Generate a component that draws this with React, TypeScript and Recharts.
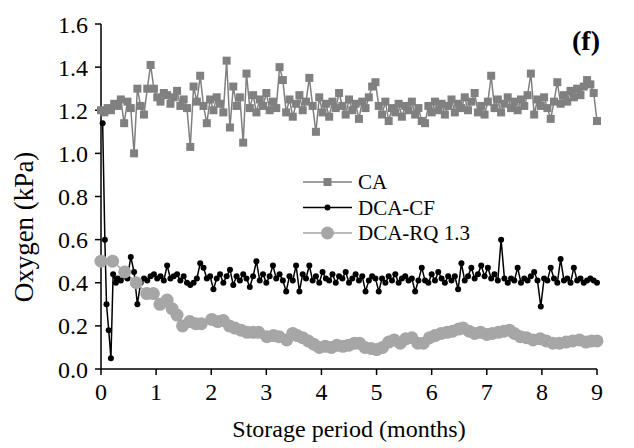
import React from 'react';
import { LineChart, Line, XAxis, YAxis } from 'recharts';

// Regular sampling schedule (months): one reading every 0.06 month, 0–9 months
const gridMonths: number[] = Array.from({ length: 151 }, (_, i) => Math.round(i * 60) / 1000);

// CA: oxygen (kPa) at each grid month
const caValues: number[] = [
  1.20, 1.19, 1.21, 1.20, 1.23, 1.22, 1.25, 1.14, 1.24, 1.21,
  1.00, 1.30, 1.22, 1.18, 1.30, 1.41, 1.30, 1.26, 1.24, 1.28,
  1.27, 1.23, 1.26, 1.29, 1.22, 1.25, 1.21, 1.03, 1.31, 1.24,
  1.36, 1.22, 1.14, 1.25, 1.20, 1.26, 1.23, 1.19, 1.43, 1.12,
  1.31, 1.22, 1.26, 1.05, 1.37, 1.21, 1.27, 1.19, 1.25, 1.22,
  1.28, 1.20, 1.24, 1.21, 1.40, 1.34, 1.19, 1.25, 1.17, 1.23,
  1.27, 1.20, 1.24, 1.35, 1.22, 1.10, 1.26, 1.19, 1.23, 1.17,
  1.24, 1.21, 1.28, 1.22, 1.18, 1.25, 1.20, 1.23, 1.16, 1.24,
  1.21, 1.26, 1.31, 1.33, 1.22, 1.18, 1.24, 1.15, 1.21, 1.19,
  1.23, 1.17, 1.22, 1.20, 1.24, 1.18, 1.21, 1.15, 1.14, 1.22,
  1.19, 1.24, 1.20, 1.23, 1.18, 1.22, 1.25, 1.19, 1.23, 1.21,
  1.26, 1.20, 1.24, 1.28, 1.19, 1.22, 1.18, 1.24, 1.36, 1.21,
  1.25, 1.19, 1.23, 1.26, 1.21, 1.24, 1.20, 1.25, 1.22, 1.27,
  1.37, 1.18, 1.25, 1.22, 1.26, 1.21, 1.16, 1.24, 1.33, 1.23,
  1.27, 1.24, 1.29, 1.26, 1.30, 1.27, 1.31, 1.34, 1.32, 1.28,
  1.15,
];

// DCA-CF: dense readings in the first days, then the regular grid from 0.30 month
const cfEarlyMonths: number[] = [0.03, 0.07, 0.10, 0.14, 0.18, 0.22, 0.27];
const cfEarlyValues: number[] = [1.14, 0.60, 0.30, 0.18, 0.05, 0.44, 0.40];
const cfGridValues: number[] = [
  0.42, 0.41, 0.43, 0.42, 0.52, 0.45, 0.30, 0.40, 0.42, 0.41,
  0.43, 0.44, 0.42, 0.43, 0.41, 0.48, 0.42, 0.43, 0.44, 0.41,
  0.43, 0.40, 0.39, 0.40, 0.42, 0.49, 0.47, 0.42, 0.43, 0.37,
  0.42, 0.44, 0.40, 0.43, 0.46, 0.39, 0.43, 0.41, 0.44, 0.42,
  0.38, 0.43, 0.50, 0.41, 0.44, 0.40, 0.43, 0.48, 0.42, 0.44,
  0.41, 0.36, 0.43, 0.41, 0.48, 0.36, 0.44, 0.42, 0.48, 0.41,
  0.43, 0.40, 0.45, 0.42, 0.41, 0.44, 0.40, 0.43, 0.42, 0.45,
  0.40, 0.42, 0.44, 0.41, 0.43, 0.36, 0.41, 0.43, 0.42, 0.36,
  0.42, 0.40, 0.43, 0.41, 0.44, 0.40, 0.42, 0.43, 0.41, 0.42,
  0.36, 0.41, 0.47, 0.41, 0.40, 0.44, 0.41, 0.45, 0.42, 0.40,
  0.43, 0.41, 0.43, 0.37, 0.49, 0.41, 0.43, 0.47, 0.42, 0.44,
  0.48, 0.43, 0.47, 0.42, 0.44, 0.41, 0.60, 0.42, 0.40, 0.42,
  0.41, 0.47, 0.40, 0.42, 0.41, 0.43, 0.45, 0.41, 0.29, 0.42,
  0.41, 0.47, 0.42, 0.40, 0.51, 0.41, 0.42, 0.40, 0.47, 0.41,
  0.42, 0.40, 0.41, 0.42, 0.41, 0.40,
];

// DCA-RQ 1.3
const rqMonths: number[] = [
  0.00, 0.21, 0.43, 0.64, 0.83, 0.95, 1.07, 1.20, 1.29, 1.38,
  1.48, 1.61, 1.72, 1.82, 2.01, 2.12, 2.22, 2.33, 2.43, 2.54,
  2.65, 2.76, 2.86, 3.01, 3.13, 3.23, 3.37, 3.48, 3.56, 3.66,
  3.76, 3.86, 3.96, 4.07, 4.18, 4.28, 4.39, 4.49, 4.60, 4.69,
  4.79, 4.90, 5.00, 5.11, 5.22, 5.32, 5.43, 5.53, 5.64, 5.75,
  5.85, 5.96, 6.06, 6.17, 6.28, 6.38, 6.49, 6.57, 6.68, 6.78,
  6.89, 7.00, 7.10, 7.21, 7.31, 7.41, 7.50, 7.61, 7.72, 7.84,
  7.97, 8.08, 8.20, 8.32, 8.44, 8.56, 8.68, 8.80, 8.90, 9.00,
];
const rqValues: number[] = [
  0.50, 0.50, 0.45, 0.40, 0.35, 0.35, 0.30, 0.32, 0.28, 0.25,
  0.20, 0.22, 0.21, 0.21, 0.23, 0.22, 0.225, 0.20, 0.19, 0.18,
  0.17, 0.17, 0.17, 0.15, 0.155, 0.15, 0.135, 0.165, 0.155, 0.145,
  0.13, 0.115, 0.10, 0.105, 0.10, 0.11, 0.105, 0.11, 0.12, 0.12,
  0.10, 0.095, 0.09, 0.10, 0.125, 0.135, 0.12, 0.14, 0.145, 0.12,
  0.12, 0.145, 0.155, 0.165, 0.17, 0.175, 0.185, 0.19, 0.175, 0.165,
  0.17, 0.16, 0.165, 0.17, 0.175, 0.18, 0.165, 0.15, 0.145, 0.135,
  0.14, 0.13, 0.12, 0.12, 0.125, 0.13, 0.135, 0.125, 0.13, 0.13,
];

const xTicks = [0, 1, 2, 3, 4, 5, 6, 7, 8, 9];
const yTicks = [0, 0.2, 0.4, 0.6, 0.8, 1.0, 1.2, 1.4, 1.6];

const caData = gridMonths.map((m, i) => ({ month: m, o2: caValues[i] }));
const cfData = [
  ...cfEarlyMonths.map((m, i) => ({ month: m, o2: cfEarlyValues[i] })),
  ...gridMonths.slice(5).map((m, i) => ({ month: m, o2: cfGridValues[i] })),
];
const rqData = rqMonths.map((m, i) => ({ month: m, o2: rqValues[i] }));

const FONT = "'Times New Roman', 'Liberation Serif', serif";
const CA_COLOR = '#808080';
const CF_COLOR = '#000000';
const RQ_COLOR = '#A6A6A6';

const SquareDot = (props: any) => {
  const { cx, cy, index } = props;
  if (cx == null || cy == null) return <g key={`ca-${index}`} />;
  return <rect key={`ca-${index}`} x={cx - 4} y={cy - 4} width={8} height={8} fill={CA_COLOR} />;
};

const CircleDot = (r: number, color: string, tag: string) => (props: any) => {
  const { cx, cy, index } = props;
  if (cx == null || cy == null) return <g key={`${tag}-${index}`} />;
  return <circle key={`${tag}-${index}`} cx={cx} cy={cy} r={r} fill={color} />;
};

const legendRows = [
  { name: 'CA', color: CA_COLOR, shape: 'square' },
  { name: 'DCA-CF', color: CF_COLOR, shape: 'small' },
  { name: 'DCA-RQ 1.3', color: RQ_COLOR, shape: 'big' },
];

// Legend, panel letter and y-axis title drawn over the chart
const Overlay = () => (
  <svg width={634} height={448} style={{ position: 'absolute', left: 0, top: 0, pointerEvents: 'none' }}>
    {legendRows.map((row, i) => {
      const y = 182 + i * 25.5;
      return (
        <g key={row.name}>
          <line x1={303} x2={352} y1={y} y2={y} stroke={row.color} strokeWidth={1.5} />
          {row.shape === 'square' && <rect x={323.5} y={y - 4} width={8} height={8} fill={row.color} />}
          {row.shape === 'small' && <circle cx={327.5} cy={y} r={3} fill={row.color} />}
          {row.shape === 'big' && <circle cx={327.5} cy={y} r={6.5} fill={row.color} />}
          <text x={358} y={y} dy="0.35em" fontSize={21} fontFamily={FONT} fill="#000">
            {row.name}
          </text>
        </g>
      );
    })}
    <text x={600} y={50} textAnchor="end" fontSize={28} fontWeight="bold" fontFamily={FONT} fill="#000">
      (f)
    </text>
    <text
      x={24}
      y={227}
      transform="rotate(-90, 24, 227)"
      textAnchor="middle"
      dy="0.35em"
      fontSize={27}
      fontFamily={FONT}
      fill="#000"
    >
      Oxygen (kPa)
    </text>
  </svg>
);

export default function App() {
  return (
    <div style={{ position: 'absolute', left: 0, top: 0, width: 634, height: 448, background: '#fff' }}>
      <LineChart width={634} height={448} margin={{ top: 24, right: 37, bottom: 0, left: 0 }}>
        <XAxis
          dataKey="month"
          type="number"
          domain={[0, 9]}
          ticks={xTicks}
          interval={0}
          allowDuplicatedCategory={false}
          height={79}
          axisLine={{ stroke: '#000', strokeWidth: 1.5 }}
          tickLine={{ stroke: '#000', strokeWidth: 1.5 }}
          tickSize={6}
          tickMargin={8}
          tick={{ fill: '#000', fontSize: 24, fontFamily: FONT }}
          label={{ value: 'Storage period (months)', position: 'insideBottom', offset: 11, fill: '#000', fontSize: 24, fontFamily: FONT }}
        />
        <YAxis
          type="number"
          domain={[0, 1.6]}
          ticks={yTicks}
          interval={0}
          width={101}
          axisLine={{ stroke: '#000', strokeWidth: 1.5 }}
          tickLine={{ stroke: '#000', strokeWidth: 1.5 }}
          tickSize={6}
          tickMargin={7}
          tickFormatter={(v: number) => v.toFixed(1)}
          tick={{ fill: '#000', fontSize: 24, fontFamily: FONT }}
        />
        <Line
          data={caData}
          dataKey="o2"
          name="CA"
          stroke={CA_COLOR}
          strokeWidth={1.5}
          dot={SquareDot}
          activeDot={false}
          isAnimationActive={false}
        />
        <Line
          data={cfData}
          dataKey="o2"
          name="DCA-CF"
          stroke={CF_COLOR}
          strokeWidth={1.5}
          dot={CircleDot(3, CF_COLOR, 'cf')}
          activeDot={false}
          isAnimationActive={false}
        />
        <Line
          data={rqData}
          dataKey="o2"
          name="DCA-RQ 1.3"
          stroke={RQ_COLOR}
          strokeWidth={1.5}
          dot={CircleDot(6.5, RQ_COLOR, 'rq')}
          activeDot={false}
          isAnimationActive={false}
        />
      </LineChart>
      <Overlay />
    </div>
  );
}
